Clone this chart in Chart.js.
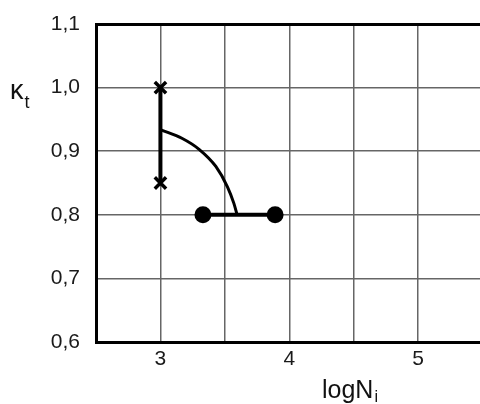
<!DOCTYPE html>
<html>
<head>
<meta charset="utf-8">
<script src="https://cdn.jsdelivr.net/npm/chart.js@4"></script>
<style>
  html, body { margin: 0; padding: 0; background: #fff; overflow: hidden; }
  #wrap { width: 480px; height: 404px; position: relative; }
</style>
</head>
<body>
<div id="wrap"><canvas id="grafica" width="480" height="404"></canvas></div>
<script>
// ticks
const xTicks = [2.5, 3, 3.5, 4, 4.5, 5];
const yTicks = [0.6, 0.7, 0.8, 0.9, 1.0, 1.1];

// vertical segment with x markers
const tramoVertX = [3, 3];
const tramoVertY = [1.0, 0.85];

// horizontal segment with dots
const tramoHorX = [3.33, 3.89];
const tramoHorY = [0.8, 0.8];

// curved part
const curvaX = [3.0, 3.17, 3.30, 3.43, 3.52, 3.57, 3.595];
const curvaY = [0.934, 0.920, 0.903, 0.876, 0.844, 0.818, 0.800];

const puntos = (xs, ys) => xs.map((x, i) => ({ x: x, y: ys[i] }));

const familia = '"Liberation Sans", Arial, sans-serif';

// axis titles with subscripts
function textoConSubindice(c, base, sub, x, y, tam, tamSub, bajada) {
  c.font = tam + 'px ' + familia;
  c.fillText(base, x, y);
  const ancho = c.measureText(base).width;
  c.font = tamSub + 'px ' + familia;
  c.fillText(sub, x + ancho + 1, y + bajada);
}

const etiquetas = {
  id: 'etiquetas',
  afterDraw(chart) {
    const c = chart.ctx;
    c.save();
    c.fillStyle = '#111';
    c.textBaseline = 'alphabetic';
    c.textAlign = 'left';
    textoConSubindice(c, 'κ', 't', 10, 99, 27, 18, 9);
    textoConSubindice(c, 'logN', 'i', 322, 398, 25, 16, 4);
    c.restore();
  }
};

const fuente = { family: familia, size: 21 };

new Chart(document.getElementById('grafica').getContext('2d'), {
  type: 'scatter',
  data: {
    datasets: [
      {
        data: puntos(curvaX, curvaY),
        showLine: true,
        borderColor: '#000',
        borderWidth: 3,
        pointRadius: 0,
        cubicInterpolationMode: 'monotone'
      },
      {
        data: puntos(tramoVertX, tramoVertY),
        showLine: true,
        borderColor: '#000',
        borderWidth: 4,
        pointStyle: 'crossRot',
        pointRadius: 8,
        pointBorderWidth: 3.5,
        pointBorderColor: '#000'
      },
      {
        data: puntos(tramoHorX, tramoHorY),
        showLine: true,
        borderColor: '#000',
        borderWidth: 4,
        pointStyle: 'circle',
        pointRadius: 6.5,
        pointBackgroundColor: '#000',
        pointBorderColor: '#000'
      }
    ]
  },
  options: {
    responsive: false,
    animation: false,
    devicePixelRatio: 1,
    layout: { autoPadding: false, padding: { top: 24, right: 0, left: 0, bottom: 0 } },
    plugins: { legend: { display: false }, tooltip: { enabled: false } },
    scales: {
      x: {
        type: 'linear',
        min: 2.5,
        max: 5.48,
        afterBuildTicks: (s) => { s.ticks = xTicks.map(v => ({ value: v })); },
        afterFit: (s) => { s.height = 62; s.paddingLeft = 0; s.paddingRight = 0; },
        ticks: {
          color: '#1a1a1a',
          font: fuente,
          padding: 5,
          maxRotation: 0,
          autoSkip: false,
          callback: (v) => Number.isInteger(v) ? String(v) : ''
        },
        grid: { color: '#666', lineWidth: 1.5, drawTicks: false },
        border: { display: true, color: '#000', width: 3 }
      },
      y: {
        min: 0.6,
        max: 1.1,
        afterBuildTicks: (s) => { s.ticks = yTicks.map(v => ({ value: v })); },
        afterFit: (s) => { s.width = 96; s.paddingTop = 0; s.paddingBottom = 0; },
        ticks: {
          color: '#1a1a1a',
          font: fuente,
          padding: 16,
          autoSkip: false,
          callback: (v) => v.toFixed(1).replace('.', ',')
        },
        grid: {
          color: (ctx) => ctx.tick && Math.abs(ctx.tick.value - 1.1) < 1e-6 ? '#000' : '#666',
          lineWidth: (ctx) => ctx.tick && Math.abs(ctx.tick.value - 1.1) < 1e-6 ? 3 : 1.5,
          drawTicks: false
        },
        border: { display: true, color: '#000', width: 3 }
      }
    }
  },
  plugins: [etiquetas]
});
</script>
</body>
</html>
